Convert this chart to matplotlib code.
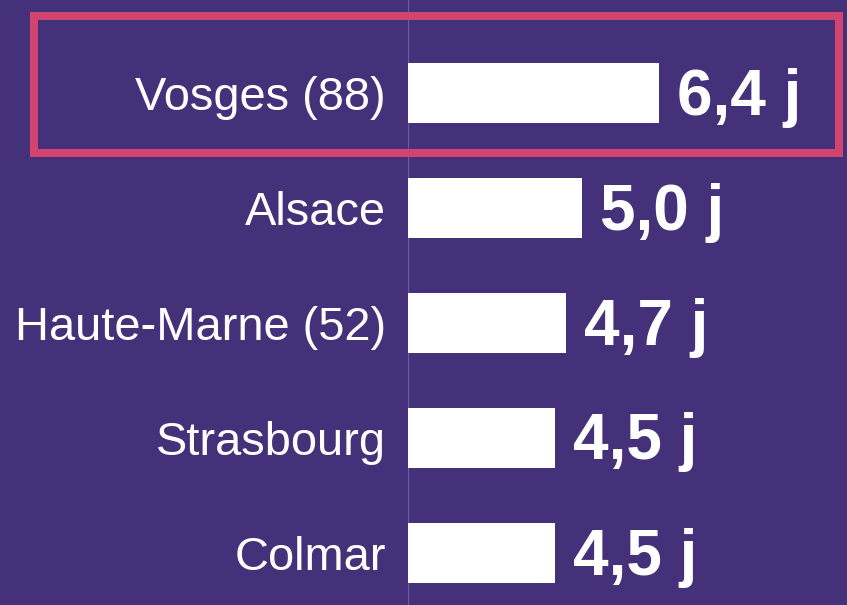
import matplotlib
matplotlib.use("Agg")
import matplotlib.pyplot as plt
from matplotlib.patches import Rectangle

categories = ["Vosges (88)", "Alsace", "Haute-Marne (52)", "Strasbourg", "Colmar"]
values = [6.4, 5.0, 4.7, 4.5, 4.5]
value_labels = ["6,4 j", "5,0 j", "4,7 j", "4,5 j", "4,5 j"]

BG = "#45307a"
HILITE = "#d1446f"

W, H = 847, 605
fig = plt.figure(figsize=(W / 100, H / 100), dpi=100, facecolor=BG)

ax_left = 408 / W
ax = fig.add_axes([ax_left, 0, 1 - ax_left, 1])
ax.set_facecolor(BG)

ypos = list(range(len(categories)))
ax.barh(ypos, values, height=60 / 115, color="white", left=0)

x0 = 1.816
ax.set_xlim(x0, x0 + (W - 408) / 54.8)
ax.set_ylim(4 + 52 / 115, -93 / 115)

for s in ax.spines.values():
    s.set_visible(False)
ax.set_xticks([])
ax.set_yticks([])

ax.axvline(x0, color="#6b5aa3", lw=1.6, zorder=0)

for y, v, lab, cat in zip(ypos, values, value_labels, categories):
    ax.annotate(lab, xy=(v, y), xytext=(18 * 72 / 100, 2 * 72 / 100), textcoords="offset points",
                ha="left", va="center_baseline", color="white", fontsize=46,
                fontweight="bold", family=["Liberation Sans", "DejaVu Sans"])
    ax.annotate(cat, xy=(x0, y), xytext=(-22 * 72 / 100, 0), textcoords="offset points",
                ha="right", va="center_baseline", color="white", fontsize=33.8,
                family=["Liberation Sans", "DejaVu Sans"], annotation_clip=False)

# highlight box around the first row
fig.add_artist(Rectangle((34 / W, 1 - 153 / H), (839 - 34) / W, (153 - 16) / H,
                         transform=fig.transFigure, fill=False,
                         edgecolor=HILITE, lw=8 * 72 / 100))

fig.savefig("out.png", dpi=100, facecolor=BG)
